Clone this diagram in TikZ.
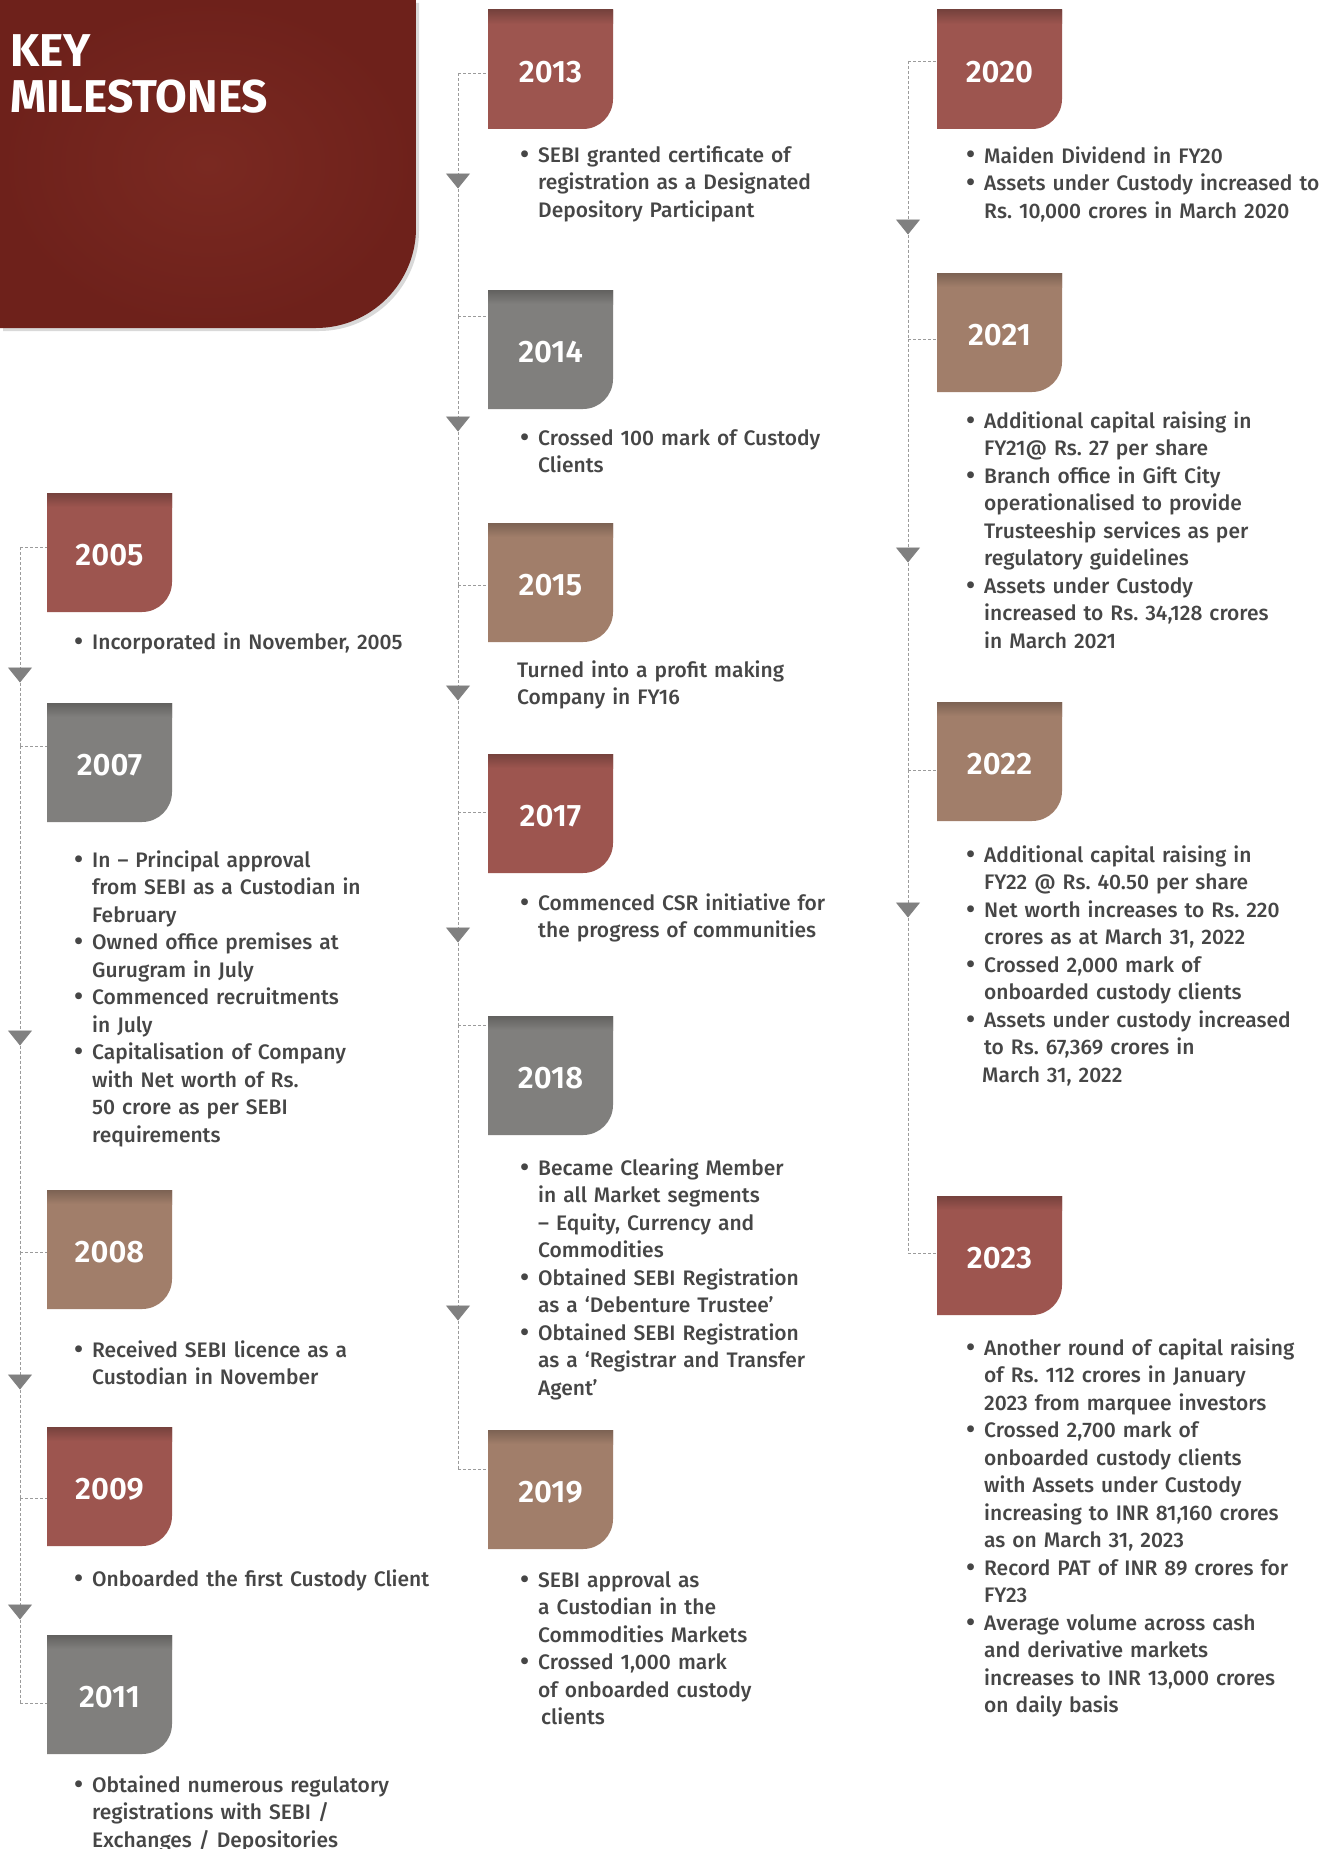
\documentclass[tikz,border=0pt]{standalone}
\usepackage{fontspec}
\setmainfont{Fira Sans}[UprightFont=* Medium, BoldFont=* Bold]
\newfontface\yearface{Fira Sans SemiBold}
\usepackage{tikz}
\usetikzlibrary{arrows.meta,calc}
\definecolor{leather}{RGB}{110,33,27}
\definecolor{leatherlight}{RGB}{122,41,33}
\definecolor{boxred}{RGB}{157,85,79}
\definecolor{boxredtop}{RGB}{118,66,61}
\definecolor{boxgray}{RGB}{128,127,125}
\definecolor{boxgraytop}{RGB}{98,97,95}
\definecolor{boxbrown}{RGB}{161,126,106}
\definecolor{boxbrowntop}{RGB}{124,98,83}
\definecolor{txtgray}{RGB}{70,70,70}
\definecolor{linegray}{RGB}{155,155,155}
\definecolor{trigray}{RGB}{128,128,128}
\frenchspacing
% bullet item with hanging indent
\newcommand{\bul}[1]{\hangindent=18pt\hangafter=1\noindent
    \hbox to 18pt{\raisebox{-1pt}{\fontsize{27}{0}\selectfont\textbullet}\hss}#1\par}
\tikzset{
    yearbox/.style = {rectangle, inner sep=0pt, minimum width=125pt, minimum height=119pt,
            text=white, font=\fontsize{31}{34}\selectfont\yearface,
            text height=26pt, text depth=0pt,
            path picture={
                \fill[#1] (path picture bounding box.north west)
                  -- (path picture bounding box.north east)
                  -- ($(path picture bounding box.south east)+(0pt,30pt)$)
                  .. controls ($(path picture bounding box.south east)+(0pt,13.4pt)$)
                  and ($(path picture bounding box.south east)+(-13.4pt,0pt)$) ..
                  ($(path picture bounding box.south east)+(-30pt,0pt)$)
                  -- (path picture bounding box.south west) -- cycle;
                \shade[top color=#1top, bottom color=#1]
                  (path picture bounding box.north west)
                  rectangle ($(path picture bounding box.north east)+(0pt,-14pt)$);
            }},
    yred/.style   = {yearbox=boxred},
    ygray/.style  = {yearbox=boxgray},
    ybrown/.style = {yearbox=boxbrown},
    note/.style   = {anchor=base west, inner sep=0pt, text width=420pt,
            text=txtgray, font=\fontsize{21}{27.5}\selectfont},
    title/.style  = {anchor=base west, inner sep=0pt, text width=400pt,
            text=white, font=\fontsize{46}{46}\selectfont\bfseries},
    tline/.style  = {draw=linegray, line width=0.9pt, dash pattern=on 3pt off 2pt},
    flow/.style   = {tline, -{Triangle[width=24pt, length=15pt, fill=trigray, color=trigray]}},
}
\begin{document}
\begin{tikzpicture}[x=1pt, y=-1pt]
    \useasboundingbox (0,0) rectangle (1336,1849);
    \fill[white] (0,0) rectangle (1336,1849);
    % Title block
    \fill[black!15, xshift=3pt, yshift=-3pt] (0,0) -- (416,0) -- (416,228)
        .. controls (416,283) and (371,328) .. (316,328) -- (0,328) -- cycle;
    \shade[inner color=leatherlight, outer color=leather] (0,0) -- (416,0) -- (416,228)
        .. controls (416,283) and (371,328) .. (316,328) -- (0,328) -- cycle;
    \node[title] (ttl) at (10,67) {KEY\newline MILESTONES};

    % Year boxes
    \node[yred]   (y2005) at (109.5,552.5)  {2005};
    \node[ygray]  (y2007) at (109.5,762.5)  {2007};
    \node[ybrown] (y2008) at (109.5,1249.5) {2008};
    \node[yred]   (y2009) at (109.5,1486.5) {2009};
    \node[ygray]  (y2011) at (109.5,1694.5) {2011};
    \node[yred]   (y2013) at (550.5,69.5)   {2013};
    \node[ygray]  (y2014) at (550.5,349.5)  {2014};
    \node[ybrown] (y2015) at (550.5,582.5)  {2015};
    \node[yred]   (y2017) at (550.5,813.5)  {2017};
    \node[ygray]  (y2018) at (550.5,1075.5) {2018};
    \node[ybrown] (y2019) at (550.5,1489.5) {2019};
    \node[yred]   (y2020) at (999.5,69.5)   {2020};
    \node[ybrown] (y2021) at (999.5,332.5)  {2021};
    \node[ybrown] (y2022) at (999.5,761.5)  {2022};
    \node[yred]   (y2023) at (999.5,1255.5) {2023};

    % Timeline junctions
    \coordinate (j2005) at (20,547);
    \coordinate (j2007) at (20,746);
    \coordinate (j2008) at (20,1252);
    \coordinate (j2009) at (20,1498);
    \coordinate (j2011) at (20,1703);
    \coordinate (j2013) at (458,73);
    \coordinate (j2014) at (458,316);
    \coordinate (j2015) at (458,585);
    \coordinate (j2017) at (458,812);
    \coordinate (j2018) at (458,1025);
    \coordinate (j2019) at (458,1469);
    \coordinate (j2020) at (908,61);
    \coordinate (j2021) at (908,339);
    \coordinate (j2022) at (908,770);
    \coordinate (j2023) at (908,1253);
    % arrow tips
    \coordinate (a0507) at (20,682.5);
    \coordinate (a0708) at (20,1045.5);
    \coordinate (a0809) at (20,1389.5);
    \coordinate (a0911) at (20,1619.5);
    \coordinate (a1314) at (458,188.5);
    \coordinate (a1415) at (458,431.5);
    \coordinate (a1517) at (458,700.5);
    \coordinate (a1718) at (458,942.5);
    \coordinate (a1819) at (458,1320.5);
    \coordinate (a2021) at (908,234.5);
    \coordinate (a2122) at (908,562.5);
    \coordinate (a2223) at (908,917.5);

    % Branches
    \draw[tline] (j2005) -- (y2005.west |- j2005);
    \draw[tline] (j2007) -- (y2007.west |- j2007);
    \draw[tline] (j2008) -- (y2008.west |- j2008);
    \draw[tline] (j2009) -- (y2009.west |- j2009);
    \draw[tline] (j2011) -- (y2011.west |- j2011);
    \draw[tline] (j2013) -- (y2013.west |- j2013);
    \draw[tline] (j2014) -- (y2014.west |- j2014);
    \draw[tline] (j2015) -- (y2015.west |- j2015);
    \draw[tline] (j2017) -- (y2017.west |- j2017);
    \draw[tline] (j2018) -- (y2018.west |- j2018);
    \draw[tline] (j2019) -- (y2019.west |- j2019);
    \draw[tline] (j2020) -- (y2020.west |- j2020);
    \draw[tline] (j2021) -- (y2021.west |- j2021);
    \draw[tline] (j2022) -- (y2022.west |- j2022);
    \draw[tline] (j2023) -- (y2023.west |- j2023);

    % Timeline arrows
    \draw[flow] (j2005) -- (a0507); \draw[tline] (a0507) -- (j2007);
    \draw[flow] (j2007) -- (a0708); \draw[tline] (a0708) -- (j2008);
    \draw[flow] (j2008) -- (a0809); \draw[tline] (a0809) -- (j2009);
    \draw[flow] (j2009) -- (a0911); \draw[tline] (a0911) -- (j2011);
    \draw[flow] (j2013) -- (a1314); \draw[tline] (a1314) -- (j2014);
    \draw[flow] (j2014) -- (a1415); \draw[tline] (a1415) -- (j2015);
    \draw[flow] (j2015) -- (a1517); \draw[tline] (a1517) -- (j2017);
    \draw[flow] (j2017) -- (a1718); \draw[tline] (a1718) -- (j2018);
    \draw[flow] (j2018) -- (a1819); \draw[tline] (a1819) -- (j2019);
    \draw[flow] (j2020) -- (a2021); \draw[tline] (a2021) -- (j2021);
    \draw[flow] (j2021) -- (a2122); \draw[tline] (a2122) -- (j2022);
    \draw[flow] (j2022) -- (a2223); \draw[tline] (a2223) -- (j2023);

    % Texts
    \node[note] (t2005) at (74,649) {\bul{Incorporated in November, 2005}};
    \node[note] (t2007) at (74,867) {\bul{In – Principal approval\newline from SEBI as a Custodian in\newline February}
        \bul{Owned office premises at\newline Gurugram in July}
        \bul{Commenced recruitments\newline in July}
        \bul{Capitalisation of Company\newline with Net worth of Rs.\newline 50 crore as per SEBI\newline requirements}};
    \node[note] (t2008) at (74,1357) {\bul{Received SEBI licence as a\newline Custodian in November}};
    \node[note] (t2009) at (74,1586) {\bul{Onboarded the first Custody Client}};
    \node[note] (t2011) at (74,1792) {\bul{Obtained numerous regulatory\newline registrations with SEBI /\newline Exchanges / Depositories}};

    \node[note] (t2013) at (520,162) {\bul{SEBI granted certificate of\newline registration as a Designated\newline Depository Participant}};
    \node[note] (t2014) at (520,445) {\bul{Crossed 100 mark of Custody\newline Clients}};
    \node[note] (t2015) at (517,677) {Turned into a profit making\newline Company in FY16\par};
    \node[note] (t2017) at (520,910) {\bul{Commenced CSR initiative for\newline the progress of communities}};
    \node[note] (t2018) at (520,1175) {\bul{Became Clearing Member\newline in all Market segments\newline – Equity, Currency and\newline Commodities}
        \bul{Obtained SEBI Registration\newline as a ‘Debenture Trustee’}
        \bul{Obtained SEBI Registration\newline as a ‘Registrar and Transfer\newline Agent’}};
    \node[note] (t2019) at (520,1587) {\bul{SEBI approval as\newline a Custodian in the\newline Commodities Markets}
        \bul{Crossed 1,000 mark\newline of onboarded custody\newline\hspace*{3pt}clients}};

    \node[note] (t2020) at (966,163) {\bul{Maiden Dividend in FY20}
        \bul{Assets under Custody increased to\newline Rs. 10,000 crores in March 2020}};
    \node[note] (t2021) at (966,428) {\bul{Additional capital raising in\newline FY21@ Rs. 27 per share}
        \bul{Branch office in Gift City\newline operationalised to provide\newline Trusteeship services as per\newline regulatory guidelines}
        \bul{Assets under Custody\newline increased to Rs. 34,128 crores\newline in March 2021}};
    \node[note] (t2022) at (966,862) {\bul{Additional capital raising in\newline FY22 @ Rs. 40.50 per share}
        \bul{Net worth increases to Rs. 220\newline crores as at March 31, 2022}
        \bul{Crossed 2,000 mark of\newline onboarded custody clients}
        \bul{Assets under custody increased\newline to Rs. 67,369 crores in\newline\hspace*{-2pt}March 31, 2022}};
    \node[note] (t2023) at (966,1355) {\bul{Another round of capital raising\newline of Rs. 112 crores in January\newline 2023 from marquee investors}
        \bul{Crossed 2,700 mark of\newline onboarded custody clients\newline with Assets under Custody\newline increasing to INR 81,160 crores\newline as on March 31, 2023}
        \bul{Record PAT of INR 89 crores for\newline FY23}
        \bul{Average volume across cash\newline and derivative markets\newline increases to INR 13,000 crores\newline on daily basis}};
\end{tikzpicture}
\end{document}
